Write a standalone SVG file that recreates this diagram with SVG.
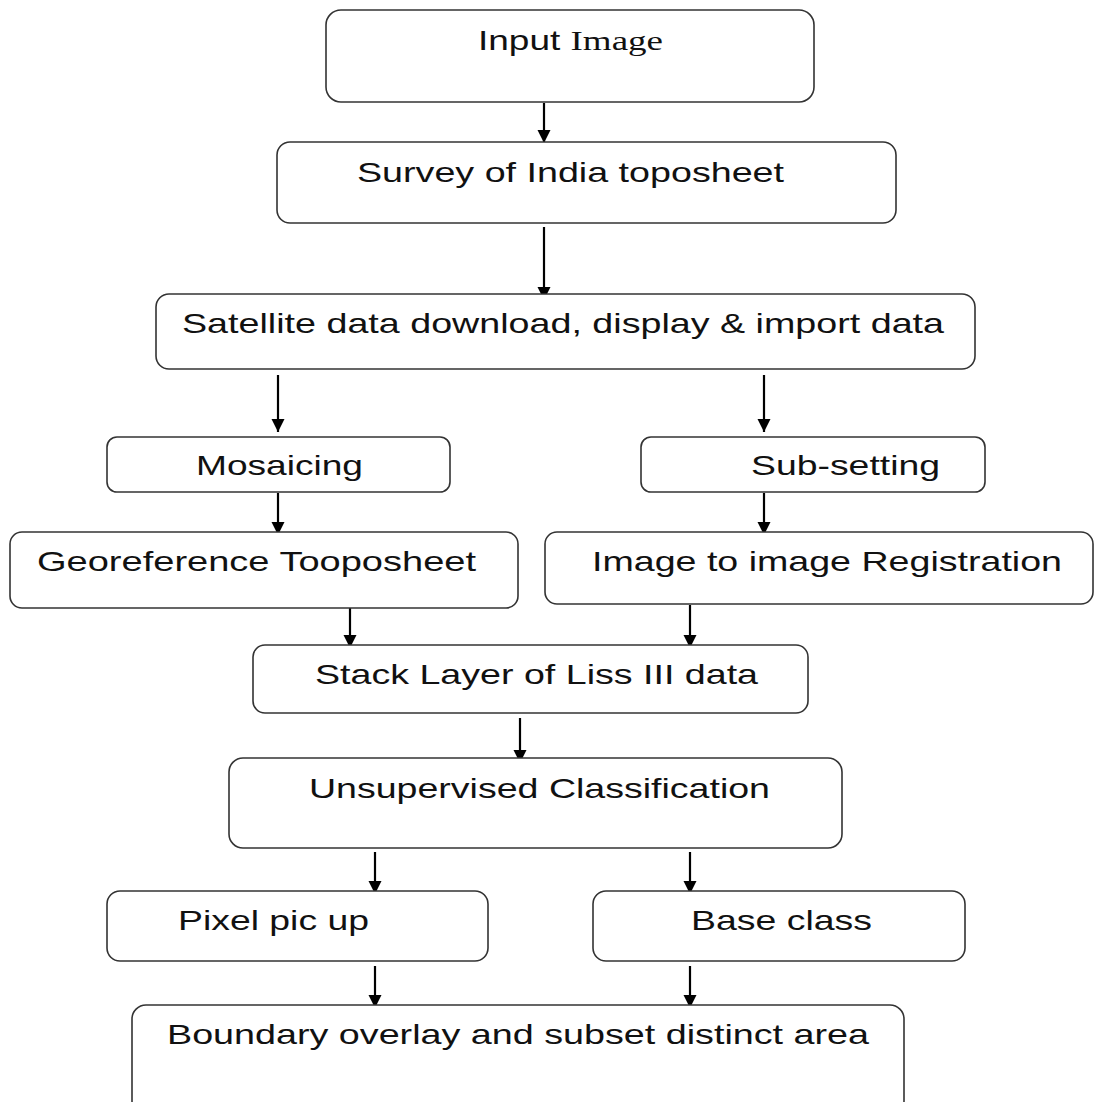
<svg xmlns="http://www.w3.org/2000/svg" width="1094" height="1102" viewBox="0 0 1094 1102">
<style>
.box{fill:#fff;stroke:#333;stroke-width:1.6}
.t{font-family:"Liberation Sans",Arial,sans-serif;font-size:28px;fill:#111}
.s{font-family:"Liberation Serif","Times New Roman",serif}
.c line{stroke:#000;stroke-width:2.2}
</style>
<defs>
<marker id="ah" markerWidth="6" markerHeight="6" refX="6" refY="3" orient="auto" markerUnits="strokeWidth">
<path d="M0,0 L6,3 L0,6 Z" fill="#000"/>
</marker>
</defs>
<rect width="1094" height="1102" fill="#fff"/>
<g id="connectors" class="c">
<line x1="544" y1="103" x2="544" y2="143" marker-end="url(#ah)"/>
<line x1="544" y1="227" x2="544" y2="300" marker-end="url(#ah)"/>
<line x1="278" y1="375" x2="278" y2="432" marker-end="url(#ah)"/>
<line x1="764" y1="375" x2="764" y2="432" marker-end="url(#ah)"/>
<line x1="278" y1="493" x2="278" y2="535" marker-end="url(#ah)"/>
<line x1="764" y1="493" x2="764" y2="535" marker-end="url(#ah)"/>
<line x1="350" y1="608" x2="350" y2="648" marker-end="url(#ah)"/>
<line x1="690" y1="605" x2="690" y2="648" marker-end="url(#ah)"/>
<line x1="520" y1="718" x2="520" y2="763" marker-end="url(#ah)"/>
<line x1="375" y1="852" x2="375" y2="894" marker-end="url(#ah)"/>
<line x1="690" y1="852" x2="690" y2="894" marker-end="url(#ah)"/>
<line x1="375" y1="966" x2="375" y2="1008" marker-end="url(#ah)"/>
<line x1="690" y1="966" x2="690" y2="1008" marker-end="url(#ah)"/>
</g>
<g id="n1"><rect class="box" x="326" y="10" width="488" height="92" rx="15"/>
<text class="t" x="478" y="50" font-size="30" textLength="185" lengthAdjust="spacingAndGlyphs">Input <tspan class="s">Image</tspan></text></g>
<g id="n2"><rect class="box" x="277" y="142" width="619" height="81" rx="13"/>
<text class="t" x="357" y="182" textLength="427" lengthAdjust="spacingAndGlyphs">Survey of India toposheet</text></g>
<g id="n3"><rect class="box" x="156" y="294" width="819" height="75" rx="13"/>
<text class="t" x="182" y="333" textLength="762" lengthAdjust="spacingAndGlyphs">Satellite data download, display &amp; import data</text></g>
<g id="n4"><rect class="box" x="107" y="437" width="343" height="55" rx="10"/>
<text class="t" x="196" y="475" textLength="167" lengthAdjust="spacingAndGlyphs">Mosaicing</text></g>
<g id="n5"><rect class="box" x="641" y="437" width="344" height="55" rx="10"/>
<text class="t" x="751" y="475" textLength="189" lengthAdjust="spacingAndGlyphs">Sub-setting</text></g>
<g id="n6"><rect class="box" x="10" y="532" width="508" height="76" rx="12"/>
<text class="t" x="37" y="571" textLength="439" lengthAdjust="spacingAndGlyphs">Georeference Tooposheet</text></g>
<g id="n7"><rect class="box" x="545" y="532" width="548" height="72" rx="12"/>
<text class="t" x="592" y="571" textLength="470" lengthAdjust="spacingAndGlyphs">Image to image Registration</text></g>
<g id="n8"><rect class="box" x="253" y="645" width="555" height="68" rx="12"/>
<text class="t" x="315" y="684" textLength="443" lengthAdjust="spacingAndGlyphs">Stack Layer of Liss III data</text></g>
<g id="n9"><rect class="box" x="229" y="758" width="613" height="90" rx="14"/>
<text class="t" x="309" y="798" textLength="461" lengthAdjust="spacingAndGlyphs">Unsupervised Classification</text></g>
<g id="n10"><rect class="box" x="107" y="891" width="381" height="70" rx="13"/>
<text class="t" x="178" y="930" textLength="191" lengthAdjust="spacingAndGlyphs">Pixel pic up</text></g>
<g id="n11"><rect class="box" x="593" y="891" width="372" height="70" rx="13"/>
<text class="t" x="691" y="930" textLength="181" lengthAdjust="spacingAndGlyphs">Base class</text></g>
<g id="n12"><rect class="box" x="132" y="1005" width="772" height="110" rx="14"/>
<text class="t" x="167" y="1044" textLength="702" lengthAdjust="spacingAndGlyphs">Boundary overlay and subset distinct area</text></g>
</svg>
